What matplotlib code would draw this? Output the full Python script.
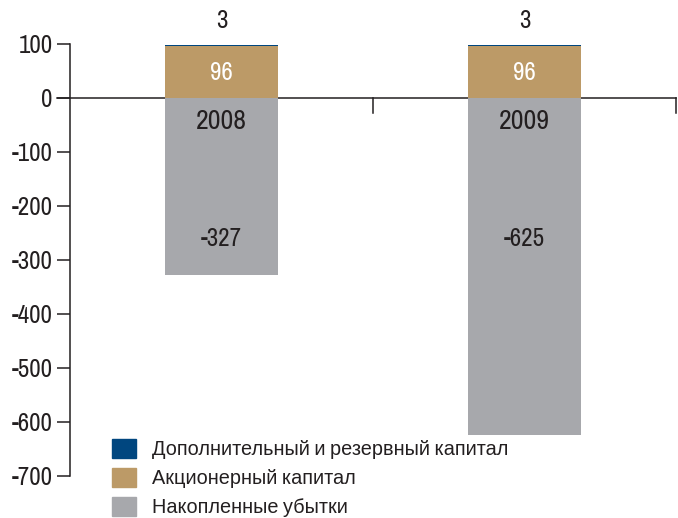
import matplotlib
matplotlib.use("Agg")
import matplotlib.pyplot as plt
from matplotlib.patches import Patch
import matplotlib.transforms as mtransforms
from matplotlib import font_manager

narrow = [f.name for f in font_manager.fontManager.ttflist if 'Narrow' in f.name or 'Condensed' in f.name]
plt.rcParams['font.family'] = (narrow[:1] if narrow else []) + ['Liberation Sans', 'DejaVu Sans']

years = ['2008', '2009']
reserve = [3, 3]
share_capital = [96, 96]
losses = [-327, -625]
series_names = ['Дополнительный и резервный капитал',
                'Акционерный капитал',
                'Накопленные убытки']
yticks = [100, 0, -100, -200, -300, -400, -500, -600, -700]

c_blue = '#00467F'
c_gold = '#BC9A67'
c_grey = '#A7A8AC'
c_text = '#231F20'

fig = plt.figure(figsize=(6.78, 5.18), dpi=100)
ax = fig.add_axes([0.1032, 0.0811, 0.8938, 0.834])

x = list(range(len(years)))
w = 0.373
ax.bar(x, losses, width=w, color=c_grey, zorder=2)
ax.bar(x, share_capital, width=w, color=c_gold, zorder=2)
ax.bar(x, reserve, width=w, bottom=share_capital, color=c_blue, zorder=2)

ax.set_xlim(-0.5, 1.5)
ax.set_ylim(-700, 100)

for i in x:
    top = share_capital[i] + reserve[i]
    ax.annotate(str(reserve[i]), (i, top), xytext=(0, 9), textcoords='offset points',
                ha='center', va='bottom', fontsize=18, color=c_text)
    ax.text(i, share_capital[i] / 2, str(share_capital[i]), ha='center', va='center',
            fontsize=18, color='white', zorder=3)
    ax.text(i, -44, years[i], ha='center', va='center', fontsize=20, color=c_text, zorder=3)
    ax.text(i, -261, str(losses[i]), ha='center', va='center', fontsize=18,
            color=c_text, zorder=3)

# zero line running a little past the y axis
trans = mtransforms.blended_transform_factory(ax.transAxes, ax.transData)
ax.plot([-0.021, 1.0], [0, 0], transform=trans, color=c_text, lw=1.1,
        clip_on=False, zorder=1)
# category separators
for sx in [0.5, 1.5]:
    ax.plot([sx, sx], [0, -28], color=c_text, lw=1.1, clip_on=False, zorder=1)

for s in ['top', 'right', 'bottom']:
    ax.spines[s].set_visible(False)
ax.spines['left'].set_color(c_text)
ax.spines['left'].set_linewidth(1.1)
ax.set_xticks([])
ax.set_yticks(yticks)
ax.set_yticklabels([str(v) for v in yticks])
ax.tick_params(axis='y', direction='out', length=9.5, width=1.1, color=c_text,
               labelsize=18, labelcolor=c_text, pad=3)

handles = [Patch(color=c_blue), Patch(color=c_gold), Patch(color=c_grey)]
fig.legend(handles, series_names, loc='upper left', bbox_to_anchor=(0.165, 0.153),
           frameon=False, fontsize=14.3, handlelength=1.2, handleheight=1.15,
           handletextpad=0.8, labelspacing=0.42, borderpad=0, borderaxespad=0,
           labelcolor=c_text)

fig.savefig('out.png', dpi=100)
